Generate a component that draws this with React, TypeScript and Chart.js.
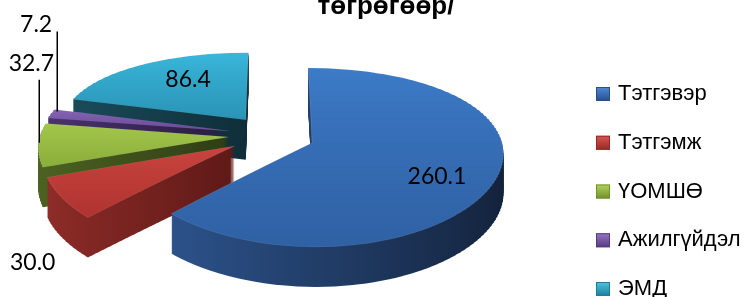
import React, { useEffect, useRef } from "react";
import { Chart, registerables, ArcElement } from "chart.js";

Chart.register(...registerables);

// ---------- data ----------
const categories = ["Тэтгэвэр", "Тэтгэмж", "ҮОМШӨ", "Ажилгүйдэл", "ЭМД"];
const values = [260.1, 30.0, 32.7, 7.2, 86.4];
const valueLabels = ["260.1", "30.0", "32.7", "7.2", "86.4"];
const titleText = "төгрөгөөр/";

// ---------- styles ----------
const topBack = ["#3d7bc8", "#c9443f", "#a3c64c", "#8564b5", "#39b7db"];
const topFront = ["#2f61a4", "#b0332f", "#8aae3a", "#6a4a98", "#2a94b6"];
const sideLeft = ["#2c528a", "#8e2c28", "#4d6322", "#4a3270", "#1a4b5a"];
const sideRight = ["#13223b", "#5e1917", "#2f3d14", "#2a1b40", "#0f2e39"];
const legendLight = ["#4f8ad6", "#d85550", "#b2d35c", "#9576c4", "#4cc4e4"];
const legendDark = ["#25508a", "#982a26", "#718f2c", "#563a80", "#1f7d9a"];

const W = 755;
const H = 297;
const VIEW = {
  cx: 271.6,
  cy: 135.2,
  rx: 188.3,
  ry: 86.9,
  qx: 0.1,
  qy: 0.1668,
  explode: 0.23,
  depth: 40,
  strip: 3,
};

// label placement: u = distance along bisector (in radii incl. explosion), dx/dy pixel nudges
const labelSpec = [
  { u: 0.95, dx: -6, dy: 8, leader: null as null | { x: number; top: number; gap: number } },
  { u: 1.23, dx: -30, dy: 64, leader: null },
  { u: 1.23, dx: -7, dy: -81, leader: { x: 1, top: 16, gap: 2 } },
  { u: 1.23, dx: -15, dy: -89, leader: { x: 6, top: 7, gap: 2 } },
  { u: 0.8, dx: 2, dy: -6, leader: null },
];

const LEGEND = { boxX: 596, box: 14, textX: 618, y0: 94, step: 48.75, font: "22px 'Liberation Sans', Arial, sans-serif" };
const TITLE = { x: 386, y: 14, font: "bold 26px 'Liberation Sans', Arial, sans-serif" };
const LABEL_FONT = "23px Lato, 'Open Sans', sans-serif";

// ---------- projection helpers ----------
function projY(yn: number) {
  return VIEW.cy + VIEW.ry * (yn + VIEW.qy * yn * yn);
}
function invY(sy: number) {
  const t = (sy - VIEW.cy) / VIEW.ry;
  const disc = Math.max(0, 1 + 4 * VIEW.qy * t);
  return (-1 + Math.sqrt(disc)) / (2 * VIEW.qy);
}
function projX(xn: number, yn: number) {
  return VIEW.cx + VIEW.rx * (1 + VIEW.qx * yn) * xn;
}

function contains(s: number, e: number, ang: number) {
  for (let k = -2; k <= 2; k++) {
    const a = ang + k * Math.PI * 2;
    if (a >= s && a <= e) return true;
  }
  return false;
}

function sliceExtents(a: any) {
  const s = a.startAngle, e = a.endAngle;
  const ys = [0, Math.sin(s), Math.sin(e)];
  const xs = [0, Math.cos(s), Math.cos(e)];
  if (contains(s, e, Math.PI / 2)) ys.push(1);
  if (contains(s, e, -Math.PI / 2)) ys.push(-1);
  if (contains(s, e, 0)) xs.push(1);
  if (contains(s, e, Math.PI)) xs.push(-1);
  return {
    ymin: Math.min(...ys), ymax: Math.max(...ys),
    xmin: Math.min(...xs), xmax: Math.max(...xs),
  };
}

function makeFake(a: any, fill: any, stroke?: any, bw?: number) {
  const f = Object.create(a);
  f.options = {
    ...a.options,
    backgroundColor: fill,
    borderColor: stroke ?? fill,
    borderWidth: bw ?? 0,
    offset: 0,
    spacing: 0,
    borderRadius: 0,
  };
  return f;
}

function drawSliceLayer(ctx: CanvasRenderingContext2D, chart: any, a: any, fake: any, d: number) {
  const R = a.outerRadius, x0 = a.x, y0 = a.y;
  const mid = (a.startAngle + a.endAngle) / 2;
  const ox = Math.cos(mid) * VIEW.explode, oy = Math.sin(mid) * VIEW.explode;
  const ext = sliceExtents(a);
  const top = Math.floor(projY(ext.ymin + oy)) - 2;
  const bottom = Math.ceil(projY(ext.ymax + oy)) + 2;
  const dpr = chart.currentDevicePixelRatio || 1;
  for (let Y = top; Y < bottom; Y += VIEW.strip) {
    const Yb = Math.min(Y + VIEW.strip, bottom);
    const na = invY(Y), nb = invY(Yb);
    const nm = (na + nb) / 2;
    const A = (VIEW.rx * (1 + VIEW.qx * nm)) / R;
    const k = (Yb - Y) / ((nb - na) * R);
    ctx.save();
    ctx.setTransform(dpr, 0, 0, dpr, 0, 0);
    ctx.beginPath();
    ctx.rect(0, Y + d, W, Yb - Y);
    ctx.clip();
    ctx.setTransform(dpr * A, 0, 0, dpr * k, dpr * (VIEW.cx - A * x0), dpr * (Y + d - k * (y0 + na * R)));
    ctx.translate(ox * R, oy * R);
    ArcElement.prototype.draw.call(fake, ctx);
    ctx.restore();
  }
}

const pie3dPlugin = {
  id: "pie3d",
  beforeDatasetsDraw(chart: any) {
    const ctx: CanvasRenderingContext2D = chart.ctx;
    const meta = chart.getDatasetMeta(0);
    const arcs: any[] = meta.data;
    if (!arcs.length) return false;
    const order = arcs
      .map((a, i) => {
        const mid = (a.startAngle + a.endAngle) / 2;
        return { i, key: sliceExtents(a).ymax + Math.sin(mid) * VIEW.explode };
      })
      .sort((p, q) => p.key - q.key);

    for (const { i } of order) {
      const a = arcs[i];
      const R = a.outerRadius, x0 = a.x, y0 = a.y;
      const ext = sliceExtents(a);
      const sg = ctx.createLinearGradient(x0 + R * ext.xmin, 0, x0 + R * ext.xmax, 0);
      sg.addColorStop(0, sideLeft[i]);
      sg.addColorStop(1, sideRight[i]);
      const sideFake = makeFake(a, sg);
      for (let d = VIEW.depth; d >= 1; d--) {
        drawSliceLayer(ctx, chart, a, sideFake, d);
      }
      const tg = ctx.createLinearGradient(0, y0 + R * ext.ymin, 0, y0 + R * ext.ymax);
      tg.addColorStop(0, topBack[i]);
      tg.addColorStop(1, topFront[i]);
      const topFake = makeFake(a, tg, "rgba(255,255,255,0.1)", 1);
      drawSliceLayer(ctx, chart, a, topFake, 0);
    }
    return false;
  },
};

const overlayPlugin = {
  id: "overlay",
  afterDraw(chart: any) {
    const ctx: CanvasRenderingContext2D = chart.ctx;
    const arcs: any[] = chart.getDatasetMeta(0).data;
    ctx.save();
    const dpr = chart.currentDevicePixelRatio || 1;
    ctx.setTransform(dpr, 0, 0, dpr, 0, 0);

    // value labels
    ctx.font = LABEL_FONT;
    ctx.fillStyle = "#000";
    ctx.textAlign = "center";
    ctx.textBaseline = "middle";
    arcs.forEach((a, i) => {
      const spec = labelSpec[i];
      const mid = (a.startAngle + a.endAngle) / 2;
      const xn = Math.cos(mid) * spec.u, yn = Math.sin(mid) * spec.u;
      const ax = projX(xn, yn), ay = projY(yn);
      const lx = ax + spec.dx, ly = ay + spec.dy;
      ctx.fillText(valueLabels[i], lx, ly);
      if (spec.leader) {
        ctx.beginPath();
        ctx.strokeStyle = "#000";
        ctx.lineWidth = 1.5;
        const x = Math.round(ax + spec.leader.x) + 0.25;
        ctx.moveTo(x, ly + spec.leader.top);
        ctx.lineTo(x, ay - spec.leader.gap);
        ctx.stroke();
      }
    });

    // legend
    ctx.textAlign = "left";
    ctx.textBaseline = "middle";
    ctx.font = LEGEND.font;
    categories.forEach((c, i) => {
      const cy = LEGEND.y0 + i * LEGEND.step;
      const bx = LEGEND.boxX, by = cy - LEGEND.box / 2, s = LEGEND.box;
      const g = ctx.createLinearGradient(0, by, 0, by + s);
      g.addColorStop(0, legendLight[i]);
      g.addColorStop(1, legendDark[i]);
      ctx.fillStyle = g;
      ctx.fillRect(bx, by, s, s);
      ctx.strokeStyle = legendDark[i];
      ctx.lineWidth = 1;
      ctx.strokeRect(bx + 0.5, by + 0.5, s - 1, s - 1);
      ctx.fillStyle = "#000";
      ctx.fillText(c, LEGEND.textX, cy);
    });

    // title (only the last line is visible)
    ctx.font = TITLE.font;
    ctx.textAlign = "center";
    ctx.textBaseline = "alphabetic";
    ctx.fillStyle = "#000";
    ctx.fillText(titleText, TITLE.x, TITLE.y);
    ctx.restore();
  },
};

export default function App() {
  const ref = useRef<HTMLCanvasElement>(null);
  useEffect(() => {
    document.body.style.margin = "0";
    const canvas = ref.current!;
    const chart = new Chart(canvas, {
      type: "pie",
      data: {
        labels: categories,
        datasets: [{ data: values, backgroundColor: topBack, borderWidth: 0 }],
      },
      options: {
        responsive: false,
        maintainAspectRatio: false,
        animation: false,
        events: [],
        layout: { padding: 0 },
        plugins: {
          legend: { display: false },
          tooltip: { enabled: false },
          title: { display: false },
        },
      },
      plugins: [pie3dPlugin, overlayPlugin],
    } as any);
    return () => chart.destroy();
  }, []);
  return (
    <div style={{ width: W, height: H, background: "#fff" }}>
      <canvas ref={ref} width={W} height={H} style={{ display: "block", width: W, height: H }} />
    </div>
  );
}
